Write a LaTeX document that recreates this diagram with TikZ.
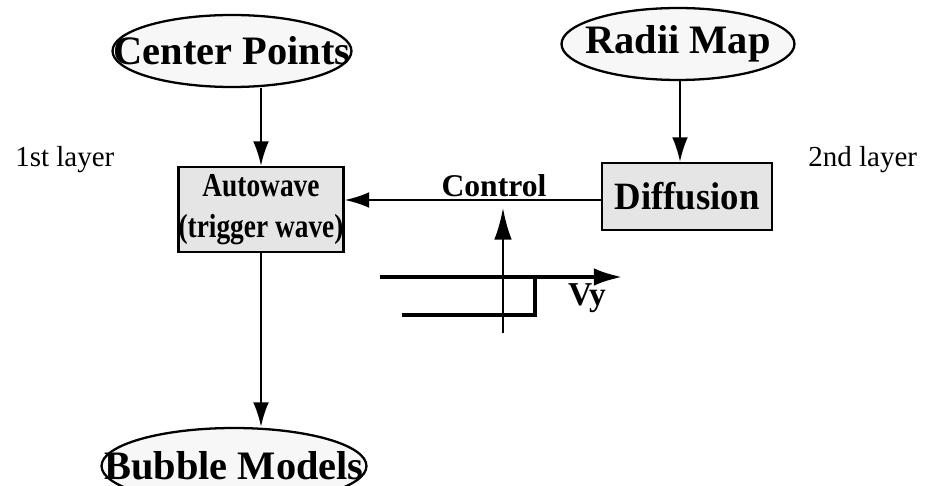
\documentclass[tikz,border=0pt]{standalone}
\usepackage{fontspec}
\setmainfont{Liberation Serif}
\usetikzlibrary{shapes.geometric,arrows.meta}
\newcommand{\zw}[1]{\makebox[0pt]{#1}}
\begin{document}
\begin{tikzpicture}[x=0.02cm,y=-0.02cm,
  oval/.style={ellipse,draw,line width=1.3pt,fill=gray!6,inner sep=0pt,
    font=\fontsize{23}{25}\selectfont\bfseries},
  procbox/.style={rectangle,draw,line width=1.3pt,fill=gray!20,inner sep=0pt,align=center,
    font=\fontsize{19}{22}\selectfont\bfseries},
  lbl/.style={inner sep=0pt,font=\fontsize{16.5}{18}\selectfont},
  conn/.style={line width=1.3pt,-{Latex[length=14pt,width=9pt]}},
  axis/.style={line width=1.8pt},
  stepline/.style={line width=2.8pt}]
\useasboundingbox (0,0) rectangle (934,486);
\node[oval,minimum width=4.78cm,minimum height=1.44cm] (cp) at (232,51) {\zw{Center Points}};
\node[oval,minimum width=4.66cm,minimum height=1.44cm] (rm) at (678,44) {\zw{Radii Map}};
\node[oval,minimum width=5.3cm,minimum height=1.52cm] (bm) at (234,466) {\zw{Bubble Models}};
\node[procbox,minimum width=2.94cm,minimum height=1.7cm] (aw) at (261,209.5)
  {\scalebox{0.82}[1]{Autowave}\\[1pt]\scalebox{0.82}[1]{(trigger wave)}};
\node[procbox,minimum width=3.4cm,minimum height=1.34cm,font=\fontsize{22}{24}\selectfont\bfseries] (df) at (687,196.5) {\scalebox{0.95}[1]{Diffusion}};
\node[lbl,anchor=west] (l1) at (15,160) {1st layer};
\node[lbl,anchor=west] (l2) at (808,160) {2nd layer};
\node[inner sep=0pt,font=\fontsize{18}{20}\selectfont\bfseries,anchor=south] (ctl) at (494,197) {Control};
\node[inner sep=0pt,font=\fontsize{19}{21}\selectfont\bfseries] (vy) at (587,298) {Vy};
\coordinate (ab) at (503,333);
\coordinate (at) at (503,208);
\coordinate (hl) at (380,277);
\coordinate (hr) at (622,277);
\coordinate (s1) at (402,315);
\coordinate (s2) at (535,315);
\coordinate (s3) at (535,277);
\draw[conn] (cp.south -| aw.north) -- (aw.north);
\draw[conn] (rm.south -| df.north) ++(-7,0) coordinate (rmx) -- (rmx |- df.north);
\draw[conn] (df.west |- 0,200) -- (aw.east |- 0,200);
\draw[conn] (aw.south) -- (aw.south |- bm.north);
\draw[line width=1.3pt,-{Latex[length=18pt,width=10pt]}] (ab) -- (at);
\draw[axis] (hl) -- (s3);
\draw[stepline] (s1) -- (s2) -- (s3) -- (595,277);
\draw[line width=1.8pt,-{Latex[length=16pt,width=10pt]}] (590,277) -- (hr);
\end{tikzpicture}
\end{document}
